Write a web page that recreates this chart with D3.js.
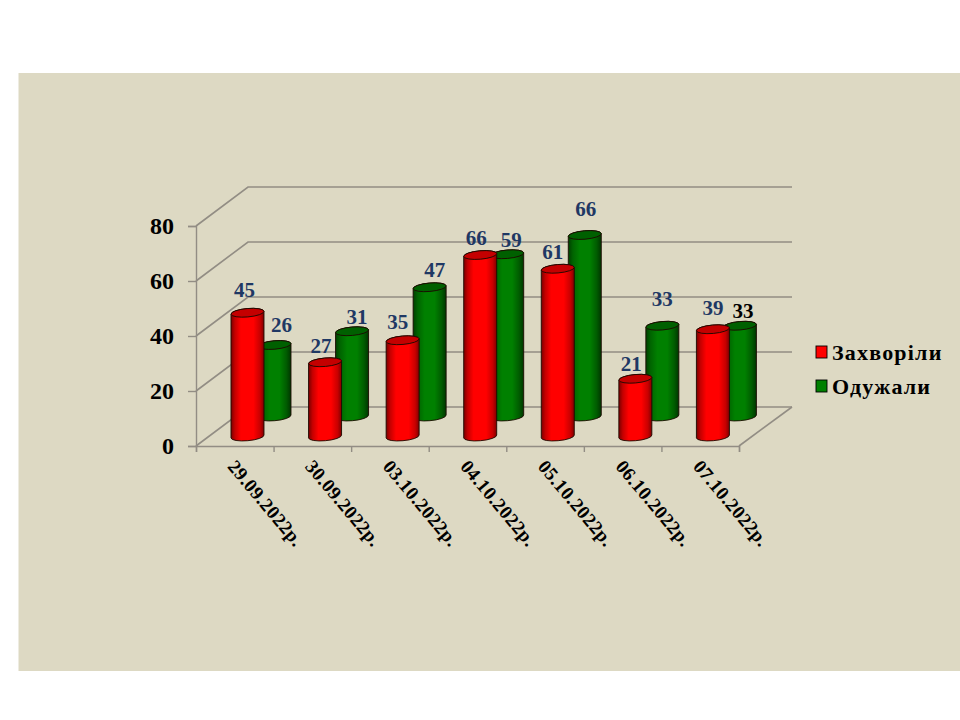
<!DOCTYPE html>
<html>
<head>
<meta charset="utf-8">
<script src="https://cdn.jsdelivr.net/npm/d3@7"></script>
<style>
  html, body { margin: 0; padding: 0; background: #fff; }
  text { font-family: "Liberation Serif", "Times New Roman", serif; font-weight: bold; }
</style>
</head>
<body>
<svg id="chart" width="960" height="720"></svg>
<script>
const categories = ["29.09.2022р.", "30.09.2022р.", "03.10.2022р.", "04.10.2022р.", "05.10.2022р.", "06.10.2022р.", "07.10.2022р."];
const sick = [45, 27, 35, 66, 61, 21, 39];
const recovered = [26, 31, 47, 59, 66, 33, 33];
const yTicks = [0, 20, 40, 60, 80];
const seriesNames = ["Захворіли", "Одужали"];

// the labels were dragged around by hand in the original, so each one gets a nudge
const sickNudge = [[-3, -22], [-4, -16], [-5, -18], [-4, -16], [-5, -16], [-4, -14], [0, -21]];
const recoveredNudge = [[7, -19], [5, -14], [5, -17], [4, -14], [1, -25], [0, -26], [3, -14]];

const depth = {x: 52, y: -39};
const frontLeft = 196, frontRight = 739, floorY = 446, wallHeight = 220;
const gridColor = "#928d84";
const rx = 16.5, ry = 4.2, tilt = -5;

const svg = d3.select("#chart");

svg.append("rect")
    .attr("x", 18.5).attr("y", 73)
    .attr("width", 941.5).attr("height", 598)
    .attr("fill", "#ddd9c3");

const x = d3.scaleBand().domain(categories).range([frontLeft, frontRight]);
const xEdge = d3.scaleLinear().domain([0, categories.length]).range([frontLeft, frontRight]);
const y = d3.scaleLinear().domain([0, 80]).range([floorY, floorY - wallHeight]);
const h = d3.scaleLinear().domain([0, 80]).range([0, wallHeight]);

// cylinder gradients
const defs = svg.append("defs");
function addGradient(id, stops) {
  const g = defs.append("linearGradient").attr("id", id)
      .attr("x1", "0%").attr("x2", "100%").attr("y1", "0%").attr("y2", "0%");
  stops.forEach(s => g.append("stop").attr("offset", s[0]).attr("stop-color", s[1]));
}
addGradient("redBody", [[0, "#7a0000"], [0.12, "#c40000"], [0.3, "#ff0000"], [0.68, "#ff0000"], [0.88, "#c80000"], [1, "#800000"]]);
addGradient("greenBody", [[0, "#003f00"], [0.14, "#006400"], [0.35, "#008000"], [0.65, "#008000"], [0.86, "#005c00"], [1, "#003600"]]);

// walls and floor
const grid = svg.append("g").attr("fill", "none").attr("stroke", gridColor).attr("stroke-width", 1.6);
yTicks.forEach(t => {
  grid.append("path").attr("d", d3.line()([
    [frontLeft, y(t)],
    [frontLeft + depth.x, y(t) + depth.y],
    [frontRight + depth.x + 1, y(t) + depth.y]
  ]));
});
grid.append("path").attr("d", d3.line()([
  [frontRight, floorY],
  [frontRight + depth.x + 1, floorY + depth.y]
]));

// axes
const yAxis = d3.axisLeft(y).tickValues(yTicks).tickSize(8).tickPadding(14);
const yG = svg.append("g").attr("transform", `translate(${frontLeft},0)`).call(yAxis);
yG.selectAll("path, line").attr("stroke", gridColor).attr("stroke-width", 1.4);
yG.selectAll("text")
    .attr("fill", "#000")
    .style("font-size", "24px")
    .style("font-family", '"Liberation Serif", serif')
    .style("font-weight", "bold");

const xAxis = d3.axisBottom(xEdge).tickValues(d3.range(categories.length + 1)).tickSize(6).tickFormat("");
const xG = svg.append("g").attr("transform", `translate(0,${floorY})`).call(xAxis);
xG.selectAll("path, line").attr("stroke", gridColor).attr("stroke-width", 1.4);

svg.append("g").selectAll("text")
    .data(categories)
    .join("text")
    .attr("transform", d => `translate(${x(d) + x.bandwidth() / 2 - 8},${floorY + 21}) rotate(50)`)
    .attr("font-size", 19)
    .attr("letter-spacing", 0.4)
    .attr("fill", "#000")
    .text(d => d);

// a standing cylinder: side wall, then the lid on top
function drawCylinders(values, xOffset, baseY, bodyFill, lidFill) {
  const g = svg.append("g");
  const items = g.selectAll("g")
      .data(values)
      .join("g")
      .attr("transform", (d, i) => `translate(${x(categories[i]) + x.bandwidth() / 2 + xOffset},${baseY})`);

  const lift = Math.sin(-tilt * Math.PI / 180) * rx;
  items.append("path")
      .attr("d", d => {
        const top = -h(d);
        return `M${-rx},${top + lift} L${-rx},${lift}`
            + ` A${rx},${ry} ${tilt} 0 0 ${rx},${-lift}`
            + ` L${rx},${top - lift}`
            + ` A${rx},${ry} ${tilt} 0 0 ${-rx},${top + lift} Z`;
      })
      .attr("fill", `url(#${bodyFill})`)
      .attr("stroke", "#1c0a00")
      .attr("stroke-width", 0.9);

  items.append("ellipse")
      .attr("cx", 0)
      .attr("cy", d => -h(d))
      .attr("rx", rx)
      .attr("ry", ry)
      .attr("transform", d => `rotate(${tilt} 0 ${-h(d)})`)
      .attr("fill", lidFill)
      .attr("stroke", "#1c0a00")
      .attr("stroke-width", 0.9);
}

const sickX = 12.7, sickBase = 436.5, recoveredX = 39.7, recoveredBase = 416.5;
drawCylinders(recovered, recoveredX, recoveredBase, "greenBody", "#006000");
drawCylinders(sick, sickX, sickBase, "redBody", "#c40000");

// value labels
function drawLabels(values, nudge, xOffset, baseY, colorOf) {
  svg.append("g").selectAll("text")
      .data(values)
      .join("text")
      .attr("x", (d, i) => x(categories[i]) + x.bandwidth() / 2 + xOffset + nudge[i][0])
      .attr("y", (d, i) => baseY - h(d) + nudge[i][1] - 1)
      .attr("dy", "0.35em")
      .attr("text-anchor", "middle")
      .attr("font-size", 21)
      .attr("fill", (d, i) => colorOf(i))
      .text(d => d);
}
drawLabels(recovered, recoveredNudge, recoveredX, recoveredBase, i => i === 6 ? "#000" : "#1f3864");
drawLabels(sick, sickNudge, sickX, sickBase, () => "#1f3864");

// legend
const legend = svg.append("g").selectAll("g")
    .data(seriesNames)
    .join("g")
    .attr("transform", (d, i) => `translate(816,${346 + i * 34})`);
legend.append("rect")
    .attr("width", 11).attr("height", 12)
    .attr("fill", (d, i) => i === 0 ? "#ff0000" : "#008000")
    .attr("stroke", "#000").attr("stroke-width", 0.9);
legend.append("text")
    .attr("x", 16).attr("y", 14)
    .attr("font-size", 22)
    .attr("letter-spacing", 1.2)
    .attr("fill", "#000")
    .text(d => d);
</script>
</body>
</html>
